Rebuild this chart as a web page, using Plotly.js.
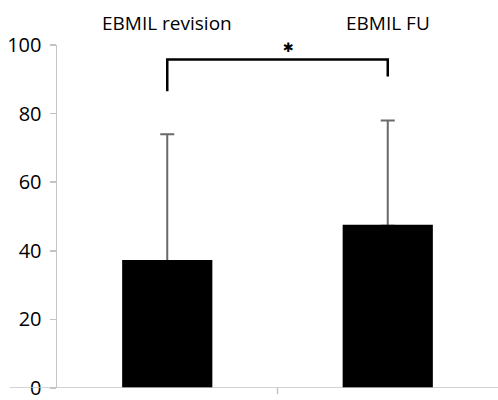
<!DOCTYPE html>
<html>
<head>
<meta charset="utf-8">
<script src="https://cdn.plot.ly/plotly-3.0.1.min.js"></script>
<style>html,body{margin:0;padding:0;background:#fff;}#chart{width:498px;height:400px;}</style>
</head>
<body>
<div id="chart"></div>
<script>
var categories = ["EBMIL revision", "EBMIL FU"];
var means = [37, 47.3];
var sdUpper = [37, 30.7];
var yTicks = [0, 20, 40, 60, 80, 100];
var bracketLeftBottom = 86.5;
var bracketRightBottom = 90.8;
var bracketTop = 95.8;
var sigLabel = "✱";

var xIdx = categories.map(function (c, i) { return i; });

var errTrace = {
  type: "bar",
  x: xIdx,
  y: means,
  width: 0.4,
  marker: { color: "#000000", line: { width: 0 } },
  error_y: {
    type: "data",
    symmetric: false,
    array: sdUpper,
    arrayminus: [0, 0],
    color: "#6a6a6a",
    thickness: 2,
    width: 7
  },
  hoverinfo: "none"
};
var barTrace = {
  type: "bar",
  x: xIdx,
  y: means,
  width: 0.4,
  marker: { color: "#000000", line: { width: 2, color: "#000000" } },
  hoverinfo: "none"
};

var annotations = categories.map(function (c, i) {
  return {
    x: i, xref: "x", y: 1, yref: "paper", yshift: 7,
    text: c, showarrow: false, yanchor: "bottom",
    font: { family: "Open Sans", size: 19, color: "#000" }
  };
});
annotations.push({
  x: 0.55, xref: "x", y: bracketTop, yref: "y", yshift: 2,
  text: sigLabel, showarrow: false, yanchor: "bottom",
  font: { family: "DejaVu Sans", size: 13, color: "#000" }
});

var shapes = [
  {
    type: "path", xref: "x", yref: "y",
    path: "M 0 " + bracketLeftBottom + " L 0 " + bracketTop + " L 1 " + bracketTop + " L 1 " + bracketRightBottom,
    line: { color: "#000", width: 2.5 }
  },
  {
    type: "line", xref: "paper", yref: "y", x0: -0.107, x1: 1, y0: 0, y1: 0,
    line: { color: "#c4c4c4", width: 1.5 }
  },
  {
    type: "line", xref: "x", yref: "paper", x0: 0.5, x1: 0.5, y0: 0, y1: -0.018,
    line: { color: "#c4c4c4", width: 1.5 }
  }
];

var layout = {
  width: 498, height: 400,
  margin: { l: 57, r: 0, t: 45, b: 12 },
  paper_bgcolor: "#fff", plot_bgcolor: "#fff",
  showlegend: false,
  barmode: "overlay",
  xaxis: {
    range: [-0.5, 1.5],
    showticklabels: false, ticks: "", showgrid: false, zeroline: false,
    showline: false, fixedrange: true
  },
  yaxis: {
    range: [0, 100],
    tickvals: yTicks,
    ticks: "outside", ticklen: 6, tickwidth: 1.5, tickcolor: "#c4c4c4",
    showline: true, linecolor: "#c4c4c4", linewidth: 1.5,
    showgrid: false, zeroline: false,
    tickfont: { family: "Open Sans", size: 20, color: "#000" },
    ticklabelstandoff: 4,
    ticklabeloverflow: "allow"
  },
  annotations: annotations,
  shapes: shapes
};

Plotly.newPlot("chart", [errTrace, barTrace], layout, { displayModeBar: false, staticPlot: true });
</script>
</body>
</html>
